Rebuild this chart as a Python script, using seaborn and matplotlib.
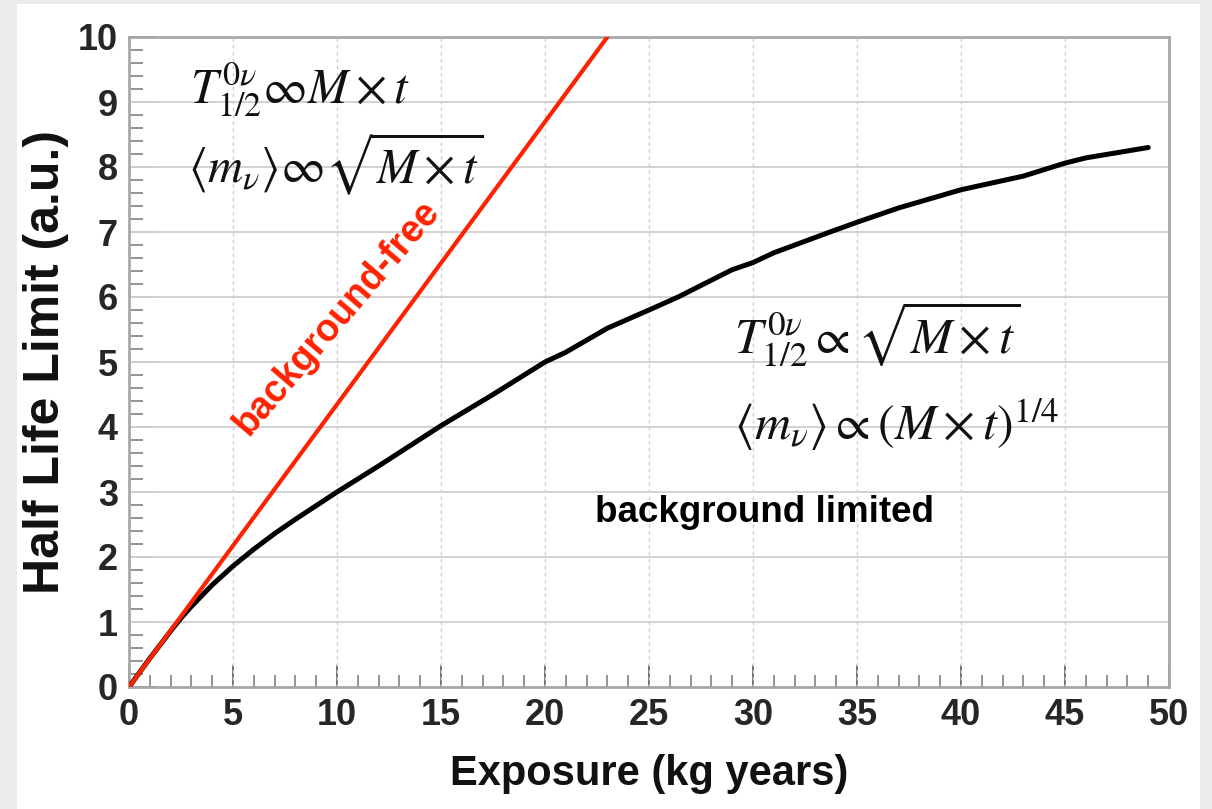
import matplotlib
matplotlib.use("Agg")
import matplotlib.pyplot as plt
from matplotlib import font_manager
from matplotlib.patches import Rectangle
import seaborn as sns
import pandas as pd

# ---- data ----
free_exposure = [0, 23]
free_limit = [0, 10.0]

bkg_exposure = [0, 1, 2, 2.5, 3, 4, 5, 6, 7, 8, 9, 10, 12, 15, 17.5, 20, 21, 23,
                25, 26.4, 29, 30, 31, 33.7, 35, 37, 40, 43, 45, 46, 49]
bkg_limit = [0, 0.44, 0.86, 1.06, 1.24, 1.57, 1.86, 2.12, 2.36, 2.58, 2.79, 3.0,
             3.4, 4.02, 4.5, 5.0, 5.15, 5.52, 5.8, 6.0, 6.42, 6.53, 6.68, 7.0,
             7.15, 7.37, 7.65, 7.86, 8.06, 8.14, 8.30]

x_ticks = [0, 5, 10, 15, 20, 25, 30, 35, 40, 45, 50]
y_ticks = [0, 1, 2, 3, 4, 5, 6, 7, 8, 9, 10]

df_free = pd.DataFrame({"exposure": free_exposure, "limit": free_limit})
df_bkg = pd.DataFrame({"exposure": bkg_exposure, "limit": bkg_limit})

sns.set_style("white")
names = {f.name for f in font_manager.fontManager.ttflist}
narrow = "Liberation Sans Narrow" if "Liberation Sans Narrow" in names else "Liberation Sans"
tick_fs = 27 if narrow == "Liberation Sans Narrow" else 26
plt.rcParams["font.family"] = ["Liberation Sans", "DejaVu Sans"]
plt.rcParams["mathtext.fontset"] = "stix"

RED = "#ff2200"

fig = plt.figure(figsize=(12.12, 8.09), dpi=100, facecolor="#ebebeb")
bg = Rectangle((17 / 1212, 0), (1200 - 17) / 1212, 1 - 4 / 809,
               transform=fig.transFigure, facecolor="white",
               edgecolor="none", zorder=-10)
fig.add_artist(bg)
ax = fig.add_axes([129 / 1212, 1 - 687 / 809, (1169 - 129) / 1212, (687 - 37) / 809])
ax.set_zorder(5)
ax.set_facecolor("white")

# grid
for yv in y_ticks[1:-1]:
    ax.axhline(yv, color="#d2d2d2", lw=1.4, zorder=1)
for xv in x_ticks[1:-1]:
    ax.axvline(xv, color="#cfcfcf", lw=1.0, ls=(0, (2.5, 2.5)), zorder=1)

sns.lineplot(data=df_free, x="exposure", y="limit", ax=ax, color=RED,
             linewidth=3.0, zorder=4)
sns.lineplot(data=df_bkg, x="exposure", y="limit", ax=ax, color="black",
             linewidth=3.6, zorder=3)

ax.set_xlim(0, 50)
ax.set_ylim(0, 10)
ax.set_xticks(x_ticks)
ax.set_yticks(y_ticks)
ax.set_xticks(range(0, 51), minor=True)
ax.set_yticks([i * 0.2 for i in range(51)], minor=True)
ax.set_xticklabels([str(v) for v in x_ticks], fontsize=tick_fs,
                   fontfamily=narrow, fontweight="bold")
ax.set_yticklabels([str(v) for v in y_ticks], fontsize=tick_fs,
                   fontfamily=narrow, fontweight="bold")
ax.tick_params(which="both", bottom=True, left=True, top=False, right=False)
ax.tick_params(axis="x", which="major", direction="in", length=16, width=1.3,
               color="#666666", pad=8)
ax.tick_params(axis="x", which="minor", direction="in", length=8.5, width=1.1,
               color="#777777")
ax.tick_params(axis="y", which="major", direction="in", length=19, width=1.3,
               color="#666666", pad=8)
ax.tick_params(axis="y", which="minor", direction="in", length=10, width=1.1,
               color="#777777")
for s in ax.spines.values():
    s.set_color("#a8a8a8")
    s.set_linewidth(2.0)
    s.set_visible(True)

ax.set_xlabel("Exposure (kg years)", fontsize=30, fontfamily=narrow,
              fontweight="bold", labelpad=15, color="#111111")
ax.set_ylabel("Half Life Limit (a.u.)", fontsize=36, fontweight="bold",
              labelpad=6, color="#111111")

# annotations
ax.text(2.93, 8.98, r"$T^{0\nu}_{1/2}\infty M\times t$", fontsize=35,
        ha="left", va="baseline", color="#111111", zorder=5)
ax.text(2.85, 7.75, r"$\langle m_{\nu}\rangle\infty\sqrt{M\times t}$",
        fontsize=35, ha="left", va="baseline", color="#111111", zorder=5)
ax.text(29.1, 5.14, r"$T^{0\nu}_{1/2}\propto\sqrt{M\times t}$", fontsize=36,
        ha="left", va="baseline", color="#111111", zorder=5)
ax.text(29.1, 3.8,
        r"$\langle m_{\nu}\rangle\propto(M\times t)^{1/4}$",
        fontsize=36, ha="left", va="baseline", color="#111111", zorder=5)
ax.text(22.4, 2.54, "background limited", fontsize=26.5, fontweight="bold",
        ha="left", va="baseline", color="black", zorder=5)
ax.text(10.0, 5.68, "background-free", fontsize=27, fontweight="bold",
        ha="center", va="center", rotation=49.5, rotation_mode="anchor",
        color=RED, zorder=5)

fig.savefig("out.png", dpi=100, facecolor=fig.get_facecolor())
